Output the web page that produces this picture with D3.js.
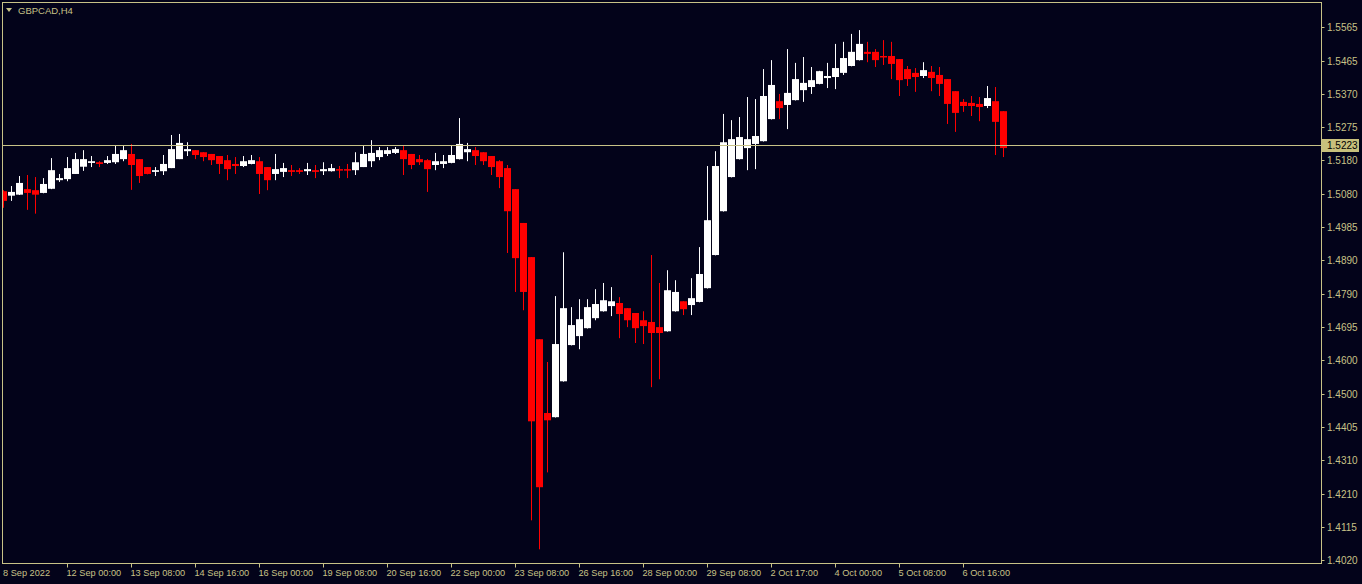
<!DOCTYPE html>
<html>
<head>
<meta charset="utf-8">
<script src="https://cdn.jsdelivr.net/npm/d3@7"></script>
<style>
  html, body { margin: 0; padding: 0; background: #03031a; }
  svg { display: block; }
</style>
</head>
<body>
<div class="chart"></div>
<script>
const symbol = "GBPCAD,H4";
const lastPrice = 1.5223;

const opens = [
  1.5089, 1.5076, 1.5079, 1.5095, 1.5092, 1.5084, 1.5096, 1.5121, 1.5124, 1.5139,
  1.5160, 1.5171, 1.5173, 1.5171, 1.5173, 1.5182, 1.5197, 1.5182, 1.5159, 1.5145,
  1.5147, 1.5156, 1.5182, 1.5205, 1.5208, 1.5202, 1.5197, 1.5191, 1.5179, 1.5168,
  1.5162, 1.5168, 1.5176, 1.5159, 1.5139, 1.5145, 1.5150, 1.5150, 1.5147, 1.5150,
  1.5147, 1.5147, 1.5153, 1.5153, 1.5150, 1.5159, 1.5176, 1.5188, 1.5197, 1.5200,
  1.5208, 1.5197, 1.5182, 1.5179, 1.5165, 1.5168, 1.5171, 1.5182, 1.5202, 1.5208,
  1.5202, 1.5191, 1.5176, 1.5156, 1.5095, 1.4997, 1.4898, 1.4660, 1.4446, 1.4434,
  1.4538, 1.4643, 1.4669, 1.4692, 1.4721, 1.4741, 1.4756, 1.4765, 1.4750, 1.4736,
  1.4715, 1.4710, 1.4695, 1.4683, 1.4741, 1.4770, 1.4759, 1.4768, 1.4808, 1.4904,
  1.5031, 1.5130, 1.5182, 1.5214, 1.5226, 1.5234, 1.5298, 1.5350, 1.5339, 1.5353,
  1.5382, 1.5391, 1.5400, 1.5417, 1.5420, 1.5432, 1.5452, 1.5469, 1.5493, 1.5493,
  1.5481, 1.5481, 1.5472, 1.5443, 1.5432, 1.5423, 1.5435, 1.5426, 1.5414, 1.5379,
  1.5348, 1.5345, 1.5342, 1.5336, 1.5350, 1.5321
];

const highs = [
  1.5092, 1.5104, 1.5133, 1.5136, 1.5130, 1.5127, 1.5185, 1.5139, 1.5188, 1.5200,
  1.5208, 1.5191, 1.5176, 1.5191, 1.5223, 1.5220, 1.5226, 1.5182, 1.5159, 1.5159,
  1.5194, 1.5252, 1.5255, 1.5231, 1.5208, 1.5202, 1.5197, 1.5191, 1.5194, 1.5188,
  1.5191, 1.5194, 1.5188, 1.5159, 1.5197, 1.5171, 1.5165, 1.5156, 1.5171, 1.5165,
  1.5173, 1.5168, 1.5162, 1.5168, 1.5202, 1.5220, 1.5237, 1.5217, 1.5217, 1.5217,
  1.5220, 1.5197, 1.5194, 1.5182, 1.5200, 1.5194, 1.5223, 1.5301, 1.5229, 1.5217,
  1.5202, 1.5191, 1.5179, 1.5165, 1.5095, 1.4997, 1.4898, 1.4660, 1.4594, 1.4785,
  1.4912, 1.4753, 1.4776, 1.4776, 1.4805, 1.4823, 1.4811, 1.4782, 1.4750, 1.4736,
  1.4741, 1.4904, 1.4823, 1.4860, 1.4831, 1.4770, 1.4837, 1.4927, 1.5162, 1.5205,
  1.5313, 1.5295, 1.5304, 1.5362, 1.5356, 1.5443, 1.5469, 1.5371, 1.5501, 1.5461,
  1.5478, 1.5449, 1.5438, 1.5461, 1.5516, 1.5522, 1.5545, 1.5556, 1.5522, 1.5501,
  1.5527, 1.5522, 1.5472, 1.5452, 1.5446, 1.5463, 1.5452, 1.5449, 1.5414, 1.5379,
  1.5356, 1.5365, 1.5362, 1.5394, 1.5391, 1.5321
];

const lows = [
  1.5041, 1.5061, 1.5078, 1.5035, 1.5024, 1.5083, 1.5095, 1.5116, 1.5118, 1.5139,
  1.5148, 1.5159, 1.5159, 1.5168, 1.5168, 1.5176, 1.5093, 1.5113, 1.5138, 1.5133,
  1.5136, 1.5156, 1.5182, 1.5191, 1.5182, 1.5176, 1.5165, 1.5139, 1.5121, 1.5139,
  1.5159, 1.5167, 1.5081, 1.5092, 1.5121, 1.5130, 1.5133, 1.5139, 1.5136, 1.5127,
  1.5136, 1.5146, 1.5127, 1.5127, 1.5136, 1.5159, 1.5159, 1.5179, 1.5191, 1.5197,
  1.5136, 1.5153, 1.5165, 1.5087, 1.5150, 1.5156, 1.5170, 1.5181, 1.5176, 1.5165,
  1.5165, 1.5136, 1.5098, 1.4910, 1.4797, 1.4744, 1.4135, 1.4051, 1.4274, 1.4433,
  1.4537, 1.4642, 1.4631, 1.4691, 1.4715, 1.4740, 1.4727, 1.4663, 1.4695, 1.4649,
  1.4646, 1.4521, 1.4544, 1.4682, 1.4740, 1.4730, 1.4730, 1.4767, 1.4807, 1.4903,
  1.5030, 1.5129, 1.5181, 1.5150, 1.5153, 1.5233, 1.5297, 1.5298, 1.5269, 1.5352,
  1.5348, 1.5371, 1.5399, 1.5388, 1.5385, 1.5426, 1.5451, 1.5468, 1.5463, 1.5449,
  1.5455, 1.5414, 1.5365, 1.5394, 1.5377, 1.5417, 1.5379, 1.5365, 1.5284, 1.5261,
  1.5319, 1.5307, 1.5292, 1.5330, 1.5194, 1.5188
];

const closes = [
  1.5061, 1.5087, 1.5113, 1.5084, 1.5079, 1.5110, 1.5150, 1.5127, 1.5156, 1.5182,
  1.5182, 1.5176, 1.5168, 1.5179, 1.5197, 1.5208, 1.5165, 1.5133, 1.5139, 1.5150,
  1.5168, 1.5211, 1.5229, 1.5211, 1.5194, 1.5188, 1.5179, 1.5168, 1.5153, 1.5162,
  1.5176, 1.5179, 1.5139, 1.5121, 1.5153, 1.5156, 1.5145, 1.5145, 1.5153, 1.5145,
  1.5153, 1.5156, 1.5152, 1.5150, 1.5173, 1.5197, 1.5200, 1.5208, 1.5208, 1.5211,
  1.5182, 1.5165, 1.5173, 1.5153, 1.5176, 1.5176, 1.5194, 1.5226, 1.5211, 1.5191,
  1.5176, 1.5159, 1.5130, 1.5031, 1.4895, 1.4797, 1.4422, 1.4231, 1.4425, 1.4646,
  1.4750, 1.4701, 1.4718, 1.4753, 1.4762, 1.4773, 1.4770, 1.4733, 1.4715, 1.4692,
  1.4698, 1.4678, 1.4678, 1.4802, 1.4797, 1.4747, 1.4779, 1.4849, 1.5005, 1.5162,
  1.5231, 1.5240, 1.5246, 1.5240, 1.5249, 1.5365, 1.5397, 1.5330, 1.5374, 1.5414,
  1.5403, 1.5411, 1.5437, 1.5423, 1.5446, 1.5475, 1.5493, 1.5516, 1.5487, 1.5469,
  1.5478, 1.5458, 1.5411, 1.5414, 1.5420, 1.5440, 1.5417, 1.5400, 1.5342, 1.5316,
  1.5336, 1.5336, 1.5333, 1.5359, 1.5290, 1.5214
];

// price axis labels (as printed by the terminal)
const priceTicks = [
  1.5565, 1.5465, 1.5370, 1.5275, 1.5180, 1.5080, 1.4985, 1.4890, 1.4790,
  1.4695, 1.4600, 1.4500, 1.4405, 1.4310, 1.4210, 1.4115, 1.4020
];

// time axis: bar index and its label
const timeTickBars = [0, 8, 16, 24, 32, 40, 48, 56, 64, 72, 80, 88, 96, 104, 112, 120];
const timeTickLabels = [
  "8 Sep 2022", "12 Sep 00:00", "13 Sep 08:00", "14 Sep 16:00", "16 Sep 00:00",
  "19 Sep 08:00", "20 Sep 16:00", "22 Sep 00:00", "23 Sep 08:00", "26 Sep 16:00",
  "28 Sep 00:00", "29 Sep 08:00", "2 Oct 17:00", "4 Oct 00:00", "5 Oct 08:00", "6 Oct 16:00"
];

const W = 1362, H = 584;
const frame = { left: 2.5, top: 2.5, right: 1321.5, bottom: 563.5 };
const fg = "#c8c287";
const bull = "#ffffff", bear = "#ff0000";
const font = "'Liberation Sans', Arial, sans-serif";

const bars = opens.map((o, i) => ({ i, o, h: highs[i], l: lows[i], c: closes[i] }));

const x = d3.scaleLinear().domain([0, bars.length - 1]).range([3.5, 3.5 + 8 * (bars.length - 1)]);
const y = d3.scaleLinear().domain([1.4020, 1.5565]).range([560, 27]);

const svg = d3.select(".chart").append("svg")
  .attr("width", W).attr("height", H)
  .style("font-family", font);

svg.append("rect").attr("width", W).attr("height", H).attr("fill", "#03031a");

// candles
const clipId = "plot-clip";
svg.append("clipPath").attr("id", clipId)
  .append("rect")
  .attr("x", frame.left).attr("y", frame.top)
  .attr("width", frame.right - frame.left).attr("height", frame.bottom - frame.top);

const plot = svg.append("g").attr("clip-path", `url(#${clipId})`);

const candle = plot.selectAll("g.candle")
  .data(bars)
  .enter()
  .append("g")
  .attr("class", "candle")
  .attr("fill", d => d.c >= d.o ? bull : bear);

candle.append("rect")
  .attr("x", d => Math.floor(x(d.i)))
  .attr("width", 1)
  .attr("y", d => y(d.h))
  .attr("height", d => Math.max(1, y(d.l) - y(d.h)));

candle.append("rect")
  .attr("x", d => x(d.i) - 3.5)
  .attr("width", 7)
  .attr("y", d => y(Math.max(d.o, d.c)))
  .attr("height", d => Math.max(1.5, Math.abs(y(d.o) - y(d.c))));

// bid line
plot.append("line")
  .attr("x1", frame.left).attr("x2", frame.right)
  .attr("y1", Math.round(y(lastPrice)) + 0.5).attr("y2", Math.round(y(lastPrice)) + 0.5)
  .attr("stroke", fg).attr("stroke-width", 1);

// frame
svg.append("rect")
  .attr("x", frame.left).attr("y", frame.top)
  .attr("width", frame.right - frame.left).attr("height", frame.bottom - frame.top)
  .attr("fill", "none").attr("stroke", fg).attr("stroke-width", 1);

// price axis
const yAxis = svg.append("g");
priceTicks.forEach(p => {
  const py = Math.round(y(p)) + 0.5;
  yAxis.append("line")
    .attr("x1", frame.right).attr("x2", frame.right + 3)
    .attr("y1", py).attr("y2", py)
    .attr("stroke", fg);
  yAxis.append("text")
    .attr("x", 1327).attr("y", py)
    .attr("dy", "0.35em")
    .attr("fill", fg)
    .style("font-size", "10px")
    .text(p.toFixed(4));
});

// last price tag
const ly = Math.round(y(lastPrice)) + 0.5;
yAxis.append("rect")
  .attr("x", 1322).attr("y", ly - 6.5)
  .attr("width", 37).attr("height", 13)
  .attr("fill", "#c8c07c");
yAxis.append("text")
  .attr("x", 1327).attr("y", ly)
  .attr("dy", "0.35em")
  .attr("fill", "#000000")
  .style("font-size", "10px")
  .text(lastPrice.toFixed(4));

// time axis
const xAxis = svg.append("g");
timeTickBars.forEach((b, k) => {
  const tx = Math.floor(x(b)) + 0.5;
  if (k > 0) {
    xAxis.append("line")
      .attr("x1", tx).attr("x2", tx)
      .attr("y1", frame.bottom).attr("y2", frame.bottom + 4)
      .attr("stroke", fg);
  }
  xAxis.append("text")
    .attr("x", k > 0 ? tx - 1 : 3).attr("y", 576)
    .attr("fill", fg)
    .style("font-size", "9.2px")
    .text(timeTickLabels[k]);
});

// title
svg.append("path")
  .attr("d", "M6,8 L12,8 L9,12 Z")
  .attr("fill", fg);
svg.append("text")
  .attr("x", 18).attr("y", 14)
  .attr("fill", fg)
  .style("font-size", "9.5px")
  .text(symbol);
</script>
</body>
</html>
